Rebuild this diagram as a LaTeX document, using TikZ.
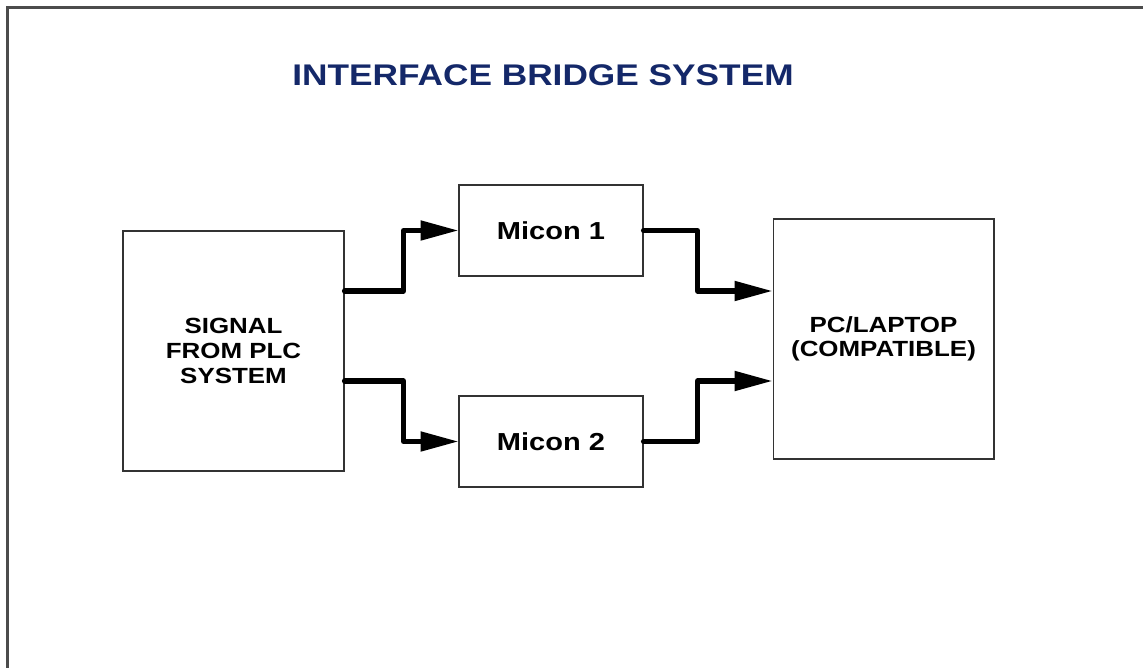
\documentclass[tikz,border=0pt]{standalone}
\usepackage{fontspec}
\setmainfont{Liberation Sans}[FakeStretch=1.18]
\usetikzlibrary{arrows.meta}
\definecolor{titleblue}{RGB}{20,40,105}
\tikzset{
  bigbox/.style={draw=black!80,line width=0.6pt,minimum width=4.42cm,minimum height=4.8cm,
    align=center,inner sep=0pt,font=\bfseries\fontsize{12.5}{14}\selectfont},
  miconbox/.style={draw=black!80,line width=0.6pt,minimum width=3.68cm,minimum height=1.82cm,
    inner sep=0pt,font=\bfseries\fontsize{14}{16}\selectfont},
  wire/.style={line width=2.9pt,line cap=round,line join=round,
    -{Triangle[length=0.76cm,width=0.38cm]}}
}
\begin{document}
\begin{tikzpicture}[x=0.02cm,y=-0.02cm]
  \useasboundingbox (0,0) rectangle (1143,668);
  % page frame
  \draw[gray!60!black,line width=1.5pt] (7.5,668) -- (7.5,7.5) -- (1143,7.5);
  \node[text=titleblue,font=\bfseries\fontsize{17}{20}\selectfont,inner sep=0pt] (title) at (543,75) {INTERFACE BRIDGE SYSTEM};
  % blocks
  \node[bigbox] (plc) at (233.5,351) {SIGNAL\\FROM PLC\\SYSTEM};
  \node[miconbox] (m1) at (551,230.5) {Micon 1};
  \node[miconbox] (m2) at (551,441.5) {Micon 2};
  \node[bigbox] (pc) at (883.5,339) {PC/LAPTOP\\(COMPATIBLE)};
  % signal levels
  \coordinate (upper) at (0,291);
  \coordinate (lower) at (0,381);
  % connectors
  \draw[wire] (plc.east |- upper) -- ++(59,0) |- (m1.west);
  \draw[wire] (plc.east |- lower) -- ++(59,0) |- (m2.west);
  \draw[wire] (m1.east) -- ++(54,0) |- (pc.west |- upper);
  \draw[wire] (m2.east) -- ++(54,0) |- (pc.west |- lower);
\end{tikzpicture}
\end{document}
